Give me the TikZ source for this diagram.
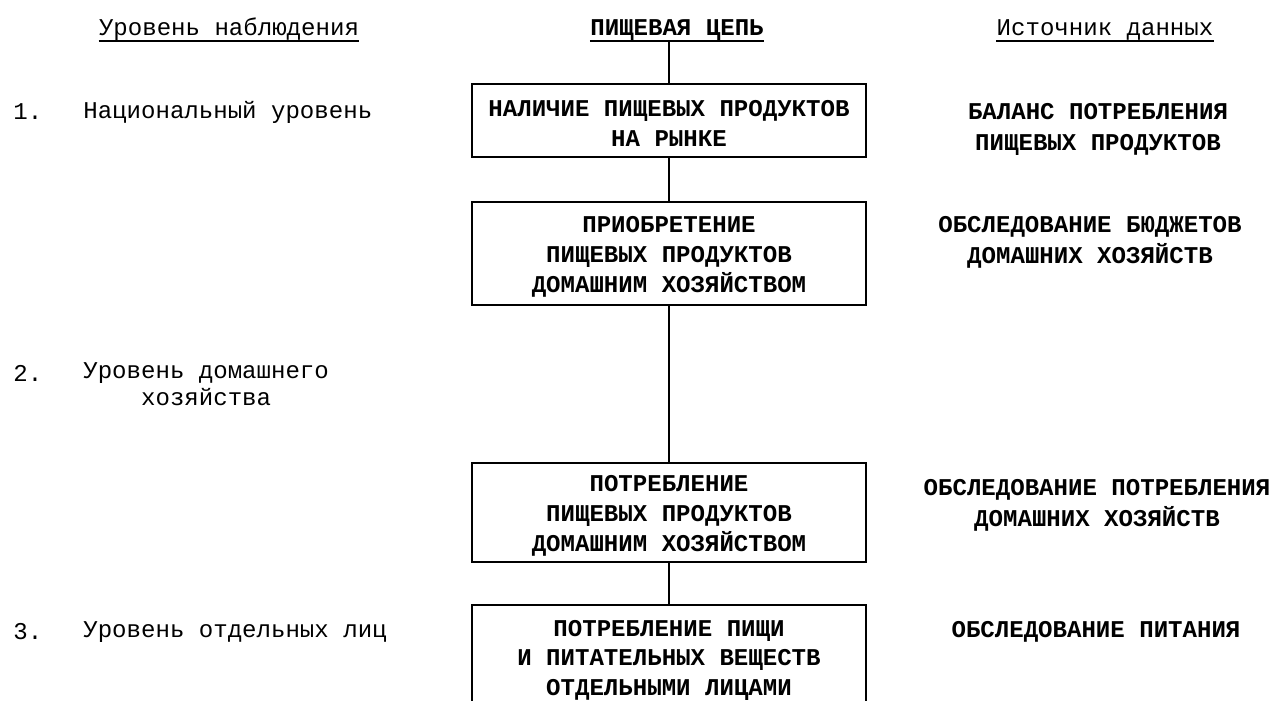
\documentclass[tikz,border=0pt]{standalone}
\usepackage{fontspec}
\setmainfont{Liberation Mono}
\usetikzlibrary{positioning}
\newcommand{\boxfont}{\bfseries\fontsize{13.7}{17}\selectfont}
\newcommand{\srcfont}{\bfseries\fontsize{13.7}{17.6}\selectfont}
\newcommand{\levelfont}{\fontsize{13.7}{15.4}\selectfont}
\newcommand{\topgap}{\rule{0pt}{13pt}}

\begin{document}
\begin{tikzpicture}[
    x=0.02cm, y=-0.02cm,
    stage/.style={rectangle, draw, line width=1.1pt, minimum width=7.88cm, inner ysep=0pt, align=center, font=\boxfont},
    source/.style={align=center, font=\srcfont},
    level/.style={anchor=west, align=left, inner xsep=0pt, font=\levelfont},
    head/.style={anchor=base, inner xsep=0pt, inner ysep=1pt, text depth=2pt, font=\levelfont},
    link/.style={line width=1.1pt}
]
    \useasboundingbox (0,0) rectangle (1274,700);

    % Column heads
    \node[head] (hlevel) at (229,35) {Уровень наблюдения};
    \node[head, font=\boxfont] (hchain) at (677,35) {ПИЩЕВАЯ ЦЕПЬ};
    \node[head] (hsource) at (1105,35) {Источник данных};
    \foreach \h in {hlevel,hchain,hsource} {
        \draw[link] (\h.south west) -- (\h.south east);
    }

    % Food chain
    \node[stage, minimum height=1.46cm] (b1) at (669,120.5) {\topgap НАЛИЧИЕ ПИЩЕВЫХ ПРОДУКТОВ\\НА РЫНКЕ};
    \node[stage, minimum height=2.06cm] (b2) at (669,253.5) {\topgap ПРИОБРЕТЕНИЕ\\ПИЩЕВЫХ ПРОДУКТОВ\\ДОМАШНИМ ХОЗЯЙСТВОМ};
    \node[stage, minimum height=1.98cm] (b3) at (669,512.5) {\topgap ПОТРЕБЛЕНИЕ\\ПИЩЕВЫХ ПРОДУКТОВ\\ДОМАШНИМ ХОЗЯЙСТВОМ};
    \node[stage, minimum height=2.08cm] (b4) at (669,657) {\topgap ПОТРЕБЛЕНИЕ ПИЩИ\\И ПИТАТЕЛЬНЫХ ВЕЩЕСТВ\\ОТДЕЛЬНЫМИ ЛИЦАМИ};

    \draw[link] (b1.north |- hchain.south) -- (b1.north);
    \draw[link] (b1) -- (b2);
    \draw[link] (b2) -- (b3);
    \draw[link] (b3) -- (b4);

    % Levels of observation
    \node[level] (n1) at (13,112) {1.};
    \node[level] (l1) at (83,112) {Национальный уровень};
    \node[level] (n2) at (13,373) {2.};
    \node[level] (l2) at (83,386.5) {Уровень домашнего\\\phantom{Уров}хозяйства};
    \node[level] (n3) at (13,632) {3.};
    \node[level] (l3) at (83,632) {Уровень отдельных лиц};

    % Data sources
    \node[source] (s1) at (1098,129.5) {БАЛАНС ПОТРЕБЛЕНИЯ\\ПИЩЕВЫХ ПРОДУКТОВ};
    \node[source] (s2) at (1090,242.5) {ОБСЛЕДОВАНИЕ БЮДЖЕТОВ\\ДОМАШНИХ ХОЗЯЙСТВ};
    \node[source] (s3) at (1097,505) {ОБСЛЕДОВАНИЕ ПОТРЕБЛЕНИЯ\\ДОМАШНИХ ХОЗЯЙСТВ};
    \node[source] (s4) at (1096,632) {ОБСЛЕДОВАНИЕ ПИТАНИЯ};
\end{tikzpicture}
\end{document}
